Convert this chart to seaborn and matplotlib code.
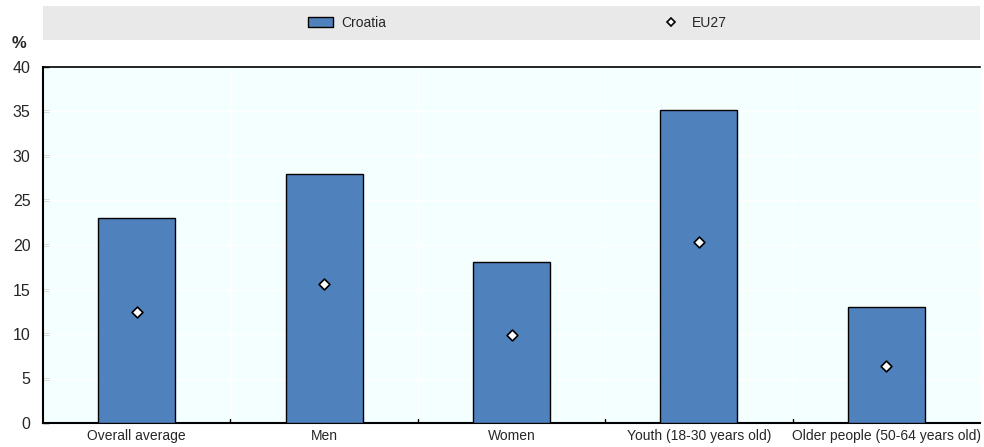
import pandas as pd
import matplotlib
matplotlib.use("Agg")
import matplotlib.pyplot as plt
import seaborn as sns
from matplotlib.patches import Rectangle
from matplotlib.lines import Line2D
from matplotlib.patches import Patch

# Data
categories = ['Overall average', 'Men', 'Women', 'Youth (18-30 years old)', 'Older people (50-64 years old)']
croatia = [23.0, 28.0, 18.1, 35.2, 13.0]
eu27 = [12.5, 15.6, 9.9, 20.3, 6.4]

df = pd.DataFrame({'Group': categories, 'Croatia': croatia, 'EU27': eu27})

sns.set_style("white")
plt.rcParams['font.family'] = ['Liberation Sans', 'DejaVu Sans']

fig = plt.figure(figsize=(9.84, 4.47), dpi=100)
ax = fig.add_axes([43 / 984, 24 / 447, 937 / 984, 356 / 447])
ax.set_facecolor('#F4FFFF')

# grey legend band
fig.patches.append(Rectangle((43 / 984, 1 - 40 / 447), 937 / 984, 34 / 447,
                             transform=fig.transFigure, facecolor='#E9E9E9',
                             edgecolor='none', zorder=0))

sns.barplot(data=df, x='Group', y='Croatia', color='#4F81BD', width=0.41,
            edgecolor='black', linewidth=1, saturation=1, ax=ax, zorder=3)
sns.stripplot(data=df, x='Group', y='EU27', marker='D', color='white',
              edgecolor='black', linewidth=1.2, size=5.5, jitter=False, ax=ax, zorder=4)

ax.set_ylim(0, 40)
ax.set_xlim(-0.5, len(categories) - 0.5)
ax.set_yticks(range(0, 41, 5))
ax.set_xlabel('')
ax.set_ylabel('')

# white grid lines
for y in range(5, 40, 5):
    ax.axhline(y, color='white', linewidth=1, zorder=1)
for x in [0.5, 1.5, 2.5, 3.5]:
    ax.axvline(x, color='white', linewidth=1, zorder=1)
    ax.plot([x, x], [0, 0.4], color='black', linewidth=1, zorder=5)

for side in ['left', 'bottom']:
    ax.spines[side].set_linewidth(1.5)
    ax.spines[side].set_color('black')
ax.spines['top'].set_linewidth(1.2)
ax.spines['top'].set_color('black')
ax.spines['right'].set_visible(False)

ax.tick_params(axis='y', direction='in', length=4, width=1, labelsize=11.5, pad=9, left=True)
ax.tick_params(axis='x', length=0, labelsize=10, pad=4)

fig.text(12 / 984, 1 - 44 / 447, '%', fontsize=12, fontweight='bold', va='center', ha='left')

handles = [Patch(facecolor='#4F81BD', edgecolor='black', linewidth=1),
           Line2D([], [], marker='D', linestyle='none', markerfacecolor='white',
                  markeredgecolor='black', markeredgewidth=1.2, markersize=4)]
fig.legend(handles, ['Croatia', 'EU27'], loc='center', ncol=2,
           bbox_to_anchor=(517 / 984, 1 - 23 / 447), frameon=False, fontsize=10,
           columnspacing=19.6, handlelength=1.8, handletextpad=0.6)

fig.savefig('out.png', dpi=100)
